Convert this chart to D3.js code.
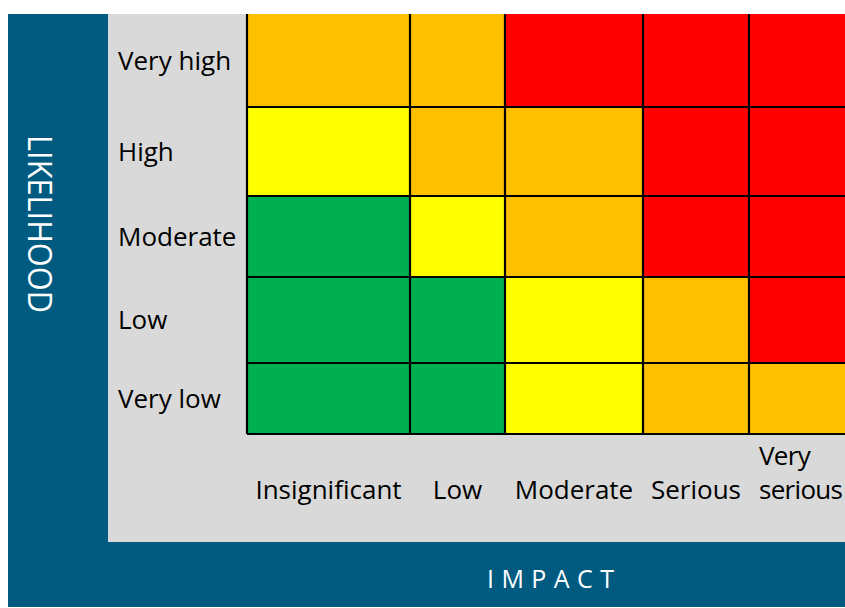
<!DOCTYPE html>
<html>
<head>
<meta charset="utf-8">
<script src="https://cdn.jsdelivr.net/npm/d3@7"></script>
<style>
  html, body { margin: 0; padding: 0; background: #fff; }
  svg { display: block; font-family: "Open Sans", sans-serif; }
</style>
</head>
<body>
<svg id="chart" width="845" height="608"></svg>
<script>
// risk matrix data
const likelihood = ["Very high", "High", "Moderate", "Low", "Very low"];
const impact = ["Insignificant", "Low", "Moderate", "Serious", "Very serious"];
const levels = ["low", "medium", "high", "extreme"];
// one row per likelihood, one entry per impact
const ratings = [
    ["high", "high", "extreme", "extreme", "extreme"],
    ["medium", "high", "high", "extreme", "extreme"],
    ["low", "medium", "high", "extreme", "extreme"],
    ["low", "low", "medium", "high", "extreme"],
    ["low", "low", "medium", "high", "high"]
];
const levelColors = ["#00B050", "#FFFF00", "#FFC000", "#FF0000"];

// layout (cell edges, uneven like the spreadsheet)
const colEdges = [247, 410, 505, 643, 749, 853];
const rowEdges = [14, 107, 196, 277, 363, 434];
const blue = "#015B80", grey = "#D9D9D9";

const svg = d3.select("#chart");

const x = d3.scaleOrdinal().domain(impact).range(colEdges.slice(0, -1));
const xw = d3.scaleOrdinal().domain(impact).range(d3.pairs(colEdges).map(p => p[1] - p[0]));
const y = d3.scaleOrdinal().domain(likelihood).range(rowEdges.slice(0, -1));
const yh = d3.scaleOrdinal().domain(likelihood).range(d3.pairs(rowEdges).map(p => p[1] - p[0]));
const color = d3.scaleOrdinal().domain(levels).range(levelColors);

// background panels
svg.append("rect").attr("x", 8).attr("y", 14).attr("width", 837).attr("height", 593).attr("fill", blue);
svg.append("rect").attr("x", 108).attr("y", 14).attr("width", 737).attr("height", 528).attr("fill", grey);

const cells = [];
likelihood.forEach((l, i) => impact.forEach((m, j) => cells.push({ l, m, v: ratings[i][j] })));

const grid = svg.append("g");
grid.selectAll("rect.cell")
    .data(cells)
    .join("rect")
    .attr("class", "cell")
    .attr("x", d => x(d.m))
    .attr("y", d => y(d.l))
    .attr("width", d => xw(d.m))
    .attr("height", d => yh(d.l))
    .attr("fill", d => color(d.v));

// cell borders (top edge is cut off in the original)
const gridTop = rowEdges[0], gridBottom = rowEdges[rowEdges.length - 1];
grid.selectAll("line.v")
    .data(colEdges.slice(0, -1))
    .join("line")
    .attr("class", "v")
    .attr("x1", d => d).attr("x2", d => d)
    .attr("y1", gridTop).attr("y2", gridBottom)
    .attr("stroke", "#000").attr("stroke-width", 2.2);
grid.selectAll("line.h")
    .data(rowEdges.slice(1))
    .join("line")
    .attr("class", "h")
    .attr("x1", colEdges[0]).attr("x2", 845)
    .attr("y1", d => d).attr("y2", d => d)
    .attr("stroke", "#000").attr("stroke-width", 2);

// row labels
svg.append("g").selectAll("text")
    .data(likelihood)
    .join("text")
    .attr("x", 118)
    .attr("y", d => y(d) + yh(d) / 2 + 9.3)
    .attr("font-size", "26px")
    .attr("fill", "#000")
    .text(d => d);

// column labels
svg.append("g").selectAll("text")
    .data(impact)
    .join("text")
    .attr("font-size", "26px")
    .attr("fill", "#000")
    .each(function(d) {
        const t = d3.select(this);
        const words = d.split(" ");
        if (words.length > 1 && xw(d) < 120) {
            // wrapped, narrow column: tighten a touch so it fits
            t.attr("text-anchor", "start").attr("letter-spacing", "-0.7px");
            words.forEach((w, k) => {
                t.append("tspan")
                    .attr("x", x(d) + 10)
                    .attr("y", 499 - (words.length - 1 - k) * 34)
                    .text(w);
            });
        } else {
            t.attr("text-anchor", "middle")
                .attr("x", x(d) + xw(d) / 2)
                .attr("y", 499)
                .text(d);
        }
    });

// axis titles
svg.append("text")
    .attr("transform", "translate(28,135) rotate(90)")
    .attr("x", 0).attr("y", 0)
    .attr("font-size", "33px")
    .attr("fill", "#fff")
    .attr("textLength", 178)
    .attr("lengthAdjust", "spacingAndGlyphs")
    .text("LIKELIHOOD");

svg.append("text")
    .attr("x", 487)
    .attr("y", 588)
    .attr("font-size", "25px")
    .attr("fill", "#fff")
    .attr("textLength", 127)
    .attr("lengthAdjust", "spacing")
    .text("IMPACT");
</script>
</body>
</html>
